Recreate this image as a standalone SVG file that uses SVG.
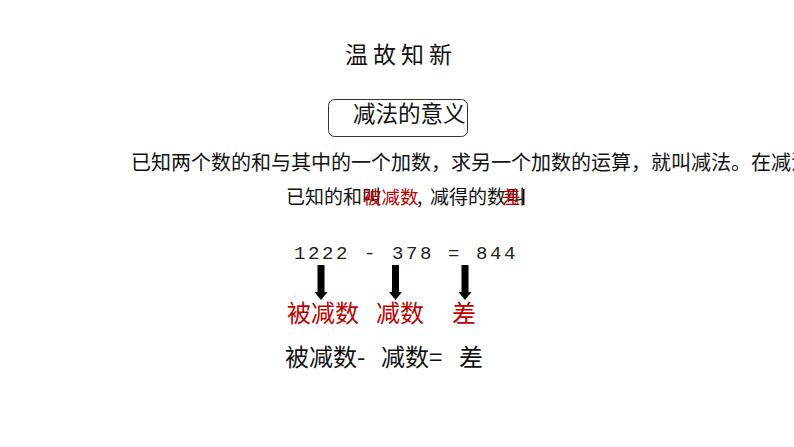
<svg xmlns="http://www.w3.org/2000/svg" width="794" height="447" viewBox="0 0 794 447">
<style>
.cjk{font-family:"Noto Sans CJK SC","Noto Sans",sans-serif;}
.blk{fill:#111;}
.red{fill:#c00000;}
.mono{font-family:"Liberation Mono","DejaVu Sans Mono",monospace;fill:#222;}
.arrow{fill:#000;}
</style>
<defs>
<path id="arr" d="M-3.5,0 H3.5 V27 H6.5 L0,35 L-6.5,27 H-3.5 Z"/>
</defs>
<rect width="794" height="447" fill="#fff"/>
<g id="title">
<text class="cjk blk" x="345" y="63" font-size="23" letter-spacing="5">温故知新</text>
</g>
<g id="heading">
<rect x="328.5" y="99.5" width="139" height="37" rx="6" fill="none" stroke="#333" stroke-width="1"/>
<text class="cjk blk" x="353" y="122" font-size="22.5">减法的意义</text>
</g>
<g id="definition">
<text class="cjk blk" x="131" y="170" font-size="20">已知两个数的和与其中的一个加数，求另一个加数的运算，就叫减法。在减法</text>
<text class="cjk blk" x="286" y="204" font-size="19">已知的和叫</text>
<text class="cjk red" x="363" y="204" font-size="18.5" fill="#b01020">被减数</text>
<text class="cjk blk" x="417" y="204" font-size="19">,</text>
<text class="cjk blk" x="430" y="204" font-size="19">减得的数叫</text>
<text class="cjk red" x="502" y="204" font-size="18.5">差</text>
<text class="cjk blk" x="514" y="204" font-size="12">。</text>
<rect x="523" y="189" width="1.5" height="16" fill="#111"/>
</g>
<g id="equation">
<text class="mono" x="294" y="259" font-size="19" letter-spacing="2.6">1222 - 378 = 844</text>
</g>
<g id="connectors">
<use href="#arr" x="321" y="265" class="arrow"/>
<use href="#arr" x="395.5" y="265" class="arrow"/>
<use href="#arr" x="465" y="265" class="arrow"/>
</g>
<g id="labels">
<text class="cjk red" x="287" y="322" font-size="24">被减数</text>
<text class="cjk red" x="376" y="322" font-size="24">减数</text>
<text class="cjk red" x="452" y="322" font-size="24">差</text>
</g>
<g id="formula">
<text class="cjk blk" x="285" y="366" font-size="24">被减数-</text>
<text class="cjk blk" x="381" y="366" font-size="24">减数=</text>
<text class="cjk blk" x="459" y="366" font-size="24">差</text>
</g>
</svg>
